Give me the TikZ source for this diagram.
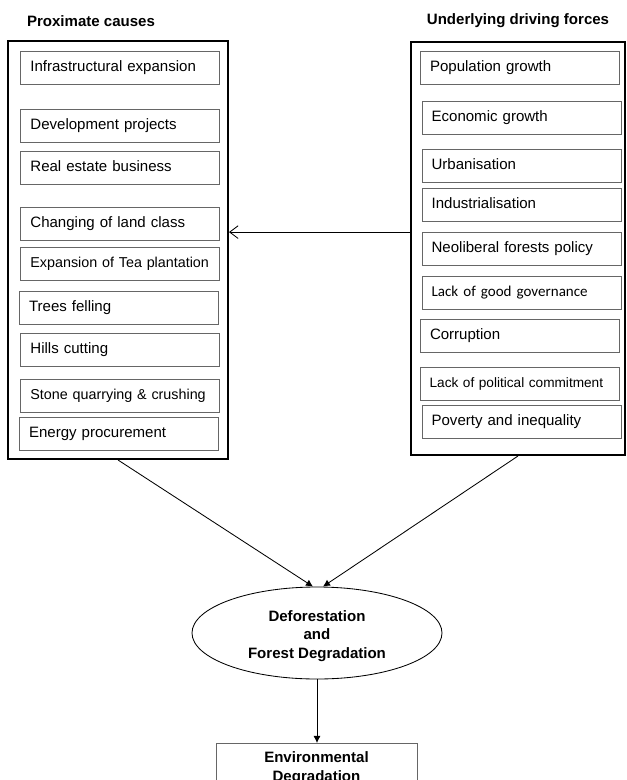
\documentclass[tikz,border=0pt]{standalone}
\usepackage{fontspec}
\setmainfont{Liberation Sans}
\newfontfamily\calibrifont{Carlito}
\usetikzlibrary{shapes.geometric,arrows.meta}
\begin{document}
\begin{tikzpicture}[every node/.style={font=\fontsize{10.7}{13}\selectfont}, >={Latex[length=5pt,width=5pt]}]
\tikzset{
  item/.style={draw=black!60, line width=0.6pt, align=left, text width=4.5cm, inner xsep=0.2375cm, minimum height=0.825cm, text height=0.75em, text depth=0.25em},
  panel/.style={draw, line width=1.4pt},
  title/.style={font=\fontsize{10.7}{13}\selectfont\bfseries},
  link/.style={->, line width=0.6pt}
}
\useasboundingbox (0,0) rectangle (15.675,-19.5);
\clip (0,0) rectangle (15.675,-19.5);

\node[panel, minimum width=5.5cm, minimum height=10.45cm] (proximate) at (2.95,-6.25) {};
\node[panel, minimum width=5.35cm, minimum height=10.325cm] (driving) at (12.95,-6.2125) {};
\node[title] (proximate_title) at (2.275,-0.525) {Proximate causes};
\node[title] (driving_title) at (12.95,-0.52) {Underlying driving forces};

\node[item] (infra) at (3.01,-1.70) {Infrastructural expansion};
\node[item] (dev_proj) at (3.01,-3.14) {Development projects};
\node[item] (real_estate) at (3.01,-4.20) {Real estate business};
\node[item] (land_class) at (3.01,-5.59) {Changing of land class};
\node[item, font=\fontsize{10.2}{12}\selectfont] (tea) at (3.01,-6.61) {Expansion of Tea plantation};
\node[item] (felling) at (2.975,-7.71) {Trees felling};
\node[item] (hills) at (3.01,-8.75) {Hills cutting};
\node[item, font=\fontsize{10.2}{12}\selectfont] (stone) at (3.01,-9.90) {Stone quarrying \& crushing};
\node[item] (energy) at (2.975,-10.85) {Energy procurement};

\node[item] (population) at (13.0,-1.70) {Population growth};
\node[item] (economic) at (13.04,-2.96) {Economic growth};
\node[item] (urban) at (13.04,-4.16) {Urbanisation};
\node[item] (industrial) at (13.04,-5.13) {Industrialisation};
\node[item] (neoliberal) at (13.04,-6.23) {Neoliberal forests policy};
\node[item] (governance) at (13.04,-7.33) {\calibrifont Lack of good governance};
\node[item] (corruption) at (13.0,-8.41) {Corruption};
\node[item, font=\fontsize{9.7}{12}\selectfont] (political) at (12.99,-9.59) {Lack of political commitment};
\node[item] (poverty) at (13.04,-10.56) {Poverty and inequality};

\coordinate (driving_arrow) at ([yshift=0.41cm]driving.west);
\draw[line width=0.6pt, -{Straight Barb[length=6pt,width=9pt]}] (driving_arrow) -- (driving_arrow -| proximate.east);

\node[ellipse, draw, line width=0.6pt, minimum width=6.25cm, minimum height=2.3cm, inner sep=0pt, align=center, title] (defo) at (7.925,-15.825) {\rule{0pt}{12pt}Deforestation\\and\\Forest Degradation};
\draw[link] (proximate.south) -- ([xshift=-0.1cm]defo.north);
\draw[link] (driving.south) -- ([xshift=0.15cm]defo.north);

\node[draw=black!60, line width=0.6pt, anchor=north, minimum width=5.025cm, inner ysep=0.21cm, align=center, title] (env) at (7.9125,-18.575) {Environmental\\Degradation};
\draw[link] (defo.south) -- (defo.south |- env.north);
\end{tikzpicture}
\end{document}
